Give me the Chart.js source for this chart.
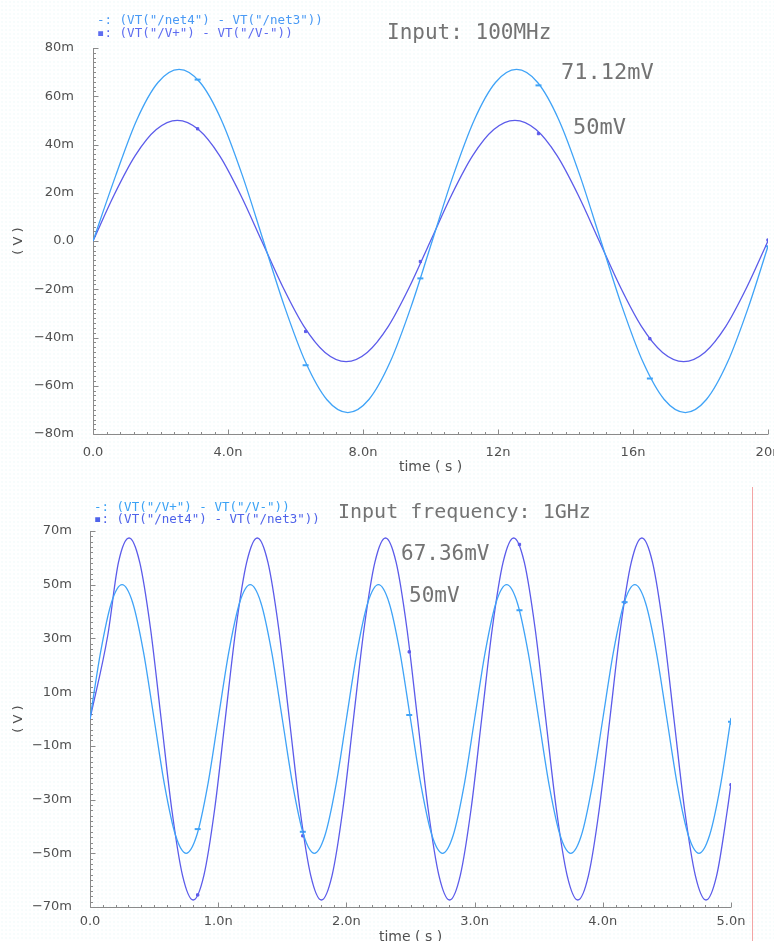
<!DOCTYPE html>
<html>
<head>
<meta charset="utf-8">
<title>Waveforms</title>
<script src="https://cdn.jsdelivr.net/npm/chart.js@4.4.1/dist/chart.umd.min.js"></script>
<style>
  html, body { margin: 0; padding: 0; }
  body {
    width: 774px; height: 941px; overflow: hidden; position: relative;
    background-color: #fff;
    background-image: radial-gradient(circle, #edf8f8 0.6px, transparent 0.8px);
    background-size: 4px 4px;
  }
  .box { position: absolute; left: 0; width: 774px; height: 475px; }
  .note { position: absolute; font-family: 'DejaVu Sans Mono', monospace; color: #737373; white-space: pre; }
  .leg { position: absolute; font-family: 'DejaVu Sans Mono', monospace; font-size: 12.5px; line-height: 13px; white-space: pre; }
  .cursor { position: absolute; left: 752px; top: 487px; width: 1px; height: 454px; background: #f4a4a4; }
</style>
</head>
<body>
<div class="box" style="top:0"><canvas id="topChart" width="774" height="475"></canvas></div>
<div class="box" style="top:475px"><canvas id="bottomChart" width="774" height="475"></canvas></div>

<div class="leg" style="left:97px; top:13px; color:#4a9af5">-: (VT("/net4") - VT("/net3"))</div>
<div class="leg" style="left:97px; top:26px; color:#5d6cf0">▪: (VT("/V+") - VT("/V-"))</div>
<div class="note" style="left:387px; top:22px; font-size:21px; line-height:21px">Input: 100MHz</div>
<div class="note" style="left:561px; top:61px; font-size:22px; line-height:22px">71.12mV</div>
<div class="note" style="left:573px; top:116px; font-size:22px; line-height:22px">50mV</div>

<div class="leg" style="left:94px; top:500px; color:#3aa2f5">-: (VT("/V+") - VT("/V-"))</div>
<div class="leg" style="left:94px; top:512px; color:#4f63ea">▪: (VT("/net4") - VT("/net3"))</div>
<div class="note" style="left:338px; top:501px; font-size:20px; line-height:20px">Input frequency: 1GHz</div>
<div class="note" style="left:401px; top:543px; font-size:21px; line-height:21px">67.36mV</div>
<div class="note" style="left:409px; top:585px; font-size:21px; line-height:21px">50mV</div>

<div class="cursor"></div>

<script>
// ---- 100 MHz run (time in ns, voltage in mV) ----
const topTimeNet = [0, 0.675, 1.3, 1.925, 2.55, 3.175, 3.8, 4.425, 5.05, 5.675, 6.3, 6.925, 7.55, 8.175, 8.8, 9.425,
  10.05, 10.675, 11.3, 11.925, 12.55, 13.175, 13.8, 14.425, 15.05, 15.675, 16.3, 16.925, 17.55, 18.175, 18.8, 19.425, 20];
const topNet = [0, 27.2, 50.3, 65.7, 71.1, 65.7, 50.3, 27.2, 0, -27.2, -50.3, -65.7, -71.1, -65.7, -50.3, -27.2,
  0, 27.2, 50.3, 65.7, 71.1, 65.7, 50.3, 27.2, 0, -27.2, -50.3, -65.7, -71.1, -65.7, -50.3, -27.2, -2.2];
const topTimeIn = [0, 0.625, 1.25, 1.875, 2.5, 3.125, 3.75, 4.375, 5, 5.625, 6.25, 6.875, 7.5, 8.125, 8.75, 9.375,
  10, 10.625, 11.25, 11.875, 12.5, 13.125, 13.75, 14.375, 15, 15.625, 16.25, 16.875, 17.5, 18.125, 18.75, 19.375, 20];
const topIn = [0, 19.1, 35.4, 46.2, 50, 46.2, 35.4, 19.1, 0, -19.1, -35.4, -46.2, -50, -46.2, -35.4, -19.1,
  0, 19.1, 35.4, 46.2, 50, 46.2, 35.4, 19.1, 0, -19.1, -35.4, -46.2, -50, -46.2, -35.4, -19.1, 0];
const topMarkTime = [3.1, 6.3, 9.7, 13.2, 16.5, 20];
const topMarkNet = [66.9, -51.5, -15.5, 64.5, -57, -2.2];
const topMarkIn = [46.5, -37.5, -8.5, 44.5, -40.5, 0.4];
const topXTicks = [0, 4, 8, 12, 16, 20];
const topXLabels = ['0.0', '4.0n', '8.0n', '12n', '16n', '20n'];
const topYTicks = [-80, -60, -40, -20, 0, 20, 40, 60, 80];
const topYLabels = ['−80m', '−60m', '−40m', '−20m', '0.0', '20m', '40m', '60m', '80m'];

// ---- 1 GHz run ----
const botTimeIn = [0, 0.083, 0.167, 0.25, 0.333, 0.417, 0.5, 0.583, 0.667, 0.75, 0.833, 0.917,
  1, 1.083, 1.167, 1.25, 1.333, 1.417, 1.5, 1.583, 1.667, 1.75, 1.833, 1.917,
  2, 2.083, 2.167, 2.25, 2.333, 2.417, 2.5, 2.583, 2.667, 2.75, 2.833, 2.917,
  3, 3.083, 3.167, 3.25, 3.333, 3.417, 3.5, 3.583, 3.667, 3.75, 3.833, 3.917,
  4, 4.083, 4.167, 4.25, 4.333, 4.417, 4.5, 4.583, 4.667, 4.75, 4.833, 4.917, 5];
const botIn = [0, 25, 43.3, 50, 43.3, 25, 0, -25, -43.3, -50, -43.3, -25,
  0, 25, 43.3, 50, 43.3, 25, 0, -25, -43.3, -50, -43.3, -25,
  0, 25, 43.3, 50, 43.3, 25, 0, -25, -43.3, -50, -43.3, -25,
  0, 25, 43.3, 50, 43.3, 25, 0, -25, -43.3, -50, -43.3, -25,
  0, 25, 43.3, 50, 43.3, 25, 0, -25, -43.3, -50, -43.3, -25, 0.4];
const botTimeNet = [0, 0.138, 0.222, 0.305, 0.388, 0.472, 0.555, 0.638, 0.722, 0.805, 0.888, 0.972,
  1.055, 1.138, 1.222, 1.305, 1.388, 1.472, 1.555, 1.638, 1.722, 1.805, 1.888, 1.972,
  2.055, 2.138, 2.222, 2.305, 2.388, 2.472, 2.555, 2.638, 2.722, 2.805, 2.888, 2.972,
  3.055, 3.138, 3.222, 3.305, 3.388, 3.472, 3.555, 3.638, 3.722, 3.805, 3.888, 3.972,
  4.055, 4.138, 4.222, 4.305, 4.388, 4.472, 4.555, 4.638, 4.722, 4.805, 4.888, 4.972, 5];
const botNet = [0, 31, 58.3, 67.4, 58.3, 33.7, 0, -33.7, -58.3, -67.4, -58.3, -33.7,
  0, 33.7, 58.3, 67.4, 58.3, 33.7, 0, -33.7, -58.3, -67.4, -58.3, -33.7,
  0, 33.7, 58.3, 67.4, 58.3, 33.7, 0, -33.7, -58.3, -67.4, -58.3, -33.7,
  0, 33.7, 58.3, 67.4, 58.3, 33.7, 0, -33.7, -58.3, -67.4, -58.3, -33.7,
  0, 33.7, 58.3, 67.4, 58.3, 33.7, 0, -33.7, -58.3, -67.4, -58.3, -33.7, -24];
const botMarkTime = [0.84, 1.66, 2.49, 3.35, 4.17, 5];
const botMarkIn = [-41, -42, 1.5, 40.5, 43.5, -1];
const botMarkNet = [-65.5, -43.5, 25, 65, 43.5, -24.5];
const botXTicks = [0, 1, 2, 3, 4, 5];
const botXLabels = ['0.0', '1.0n', '2.0n', '3.0n', '4.0n', '5.0n'];
const botYTicks = [-70, -50, -30, -10, 10, 30, 50, 70];
const botYLabels = ['−70m', '−50m', '−30m', '−10m', '10m', '30m', '50m', '70m'];

const LIGHT = '#3fa3f7';
const DARK = '#5b5bea';
const TEXT = '#505050';
const FONT = { family: 'DejaVu Sans', size: 13 };

// axis lines plus inward major/minor ticks, placed with the chart's own scales
const cadenceAxes = {
  id: 'cadenceAxes',
  beforeDatasetsDraw(chart, args, opts) {
    const { ctx, chartArea: a, scales: { x, y } } = chart;
    ctx.save();
    ctx.strokeStyle = '#8a8a8a';
    ctx.lineWidth = 1;
    ctx.beginPath();
    const left = Math.round(a.left) + 0.5;
    const bottom = Math.round(a.bottom) + 0.5;
    ctx.moveTo(left, a.top);
    ctx.lineTo(left, bottom);
    ctx.lineTo(a.right, bottom);
    const nx = Math.round((x.max - x.min) / opts.xMinor);
    for (let i = 0; i <= nx; i++) {
      const px = Math.round(x.getPixelForValue(x.min + i * opts.xMinor)) + 0.5;
      const len = i % 10 === 0 ? 5 : 2.5;
      ctx.moveTo(px, bottom);
      ctx.lineTo(px, bottom - len);
    }
    const ny = Math.round((y.max - y.min) / opts.yMinor);
    for (let i = 0; i <= ny; i++) {
      const py = Math.round(y.getPixelForValue(y.min + i * opts.yMinor)) + 0.5;
      const len = i % 10 === 0 ? 5 : 2.5;
      ctx.moveTo(left, py);
      ctx.lineTo(left + len, py);
    }
    ctx.stroke();
    ctx.restore();
  }
};

function trace(times, vals, color) {
  return {
    data: times.map((t, i) => ({ x: t, y: vals[i] })),
    borderColor: color, borderWidth: 1.3, pointRadius: 0,
    cubicInterpolationMode: 'monotone', fill: false
  };
}

function marks(times, vals, color, style, size) {
  return {
    data: times.map((t, i) => ({ x: t, y: vals[i] })),
    showLine: false, pointStyle: style, pointRadius: size,
    borderColor: color, backgroundColor: color, borderWidth: size > 2 ? 2 : 1
  };
}

function makeChart(id, s) {
  return new Chart(document.getElementById(id), {
    type: 'line',
    data: { datasets: s.datasets },
    options: {
      responsive: false, animation: false, devicePixelRatio: 1,
      layout: { padding: s.padding },
      plugins: { legend: { display: false }, tooltip: { enabled: false }, cadenceAxes: s.minor },
      scales: {
        x: {
          type: 'linear', min: s.xTicks[0], max: s.xTicks[s.xTicks.length - 1],
          grid: { display: false }, border: { display: false },
          afterBuildTicks: sc => { sc.ticks = s.xTicks.map(v => ({ value: v })); },
          ticks: { callback: (v, i) => s.xLabels[i], padding: s.xPad, color: TEXT, font: FONT, maxRotation: 0, autoSkip: false },
          title: { display: true, text: 'time ( s )', color: TEXT, font: { family: 'DejaVu Sans', size: 14 }, padding: { top: 0, bottom: s.titlePad } },
          afterFit: sc => { sc.height = s.xHeight; sc.paddingLeft = 0; sc.paddingRight = 0; }
        },
        y: {
          type: 'linear', min: s.yTicks[0], max: s.yTicks[s.yTicks.length - 1],
          grid: { display: false }, border: { display: false },
          afterBuildTicks: sc => { sc.ticks = s.yTicks.map(v => ({ value: v })); },
          ticks: { callback: (v, i) => s.yLabels[i], padding: s.yPad, color: TEXT, font: FONT, autoSkip: false },
          title: { display: true, text: '( V )', color: TEXT, font: { family: 'DejaVu Sans', size: 13 }, padding: { top: 11, bottom: 0 } },
          afterFit: sc => { sc.width = s.yWidth; }
        }
      }
    },
    plugins: [cadenceAxes]
  });
}

makeChart('topChart', {
  datasets: [
    trace(topTimeNet, topNet, LIGHT),
    trace(topTimeIn, topIn, DARK),
    marks(topMarkTime, topMarkNet, LIGHT, 'line', 3),
    marks(topMarkTime, topMarkIn, DARK, 'rect', 1.6)
  ],
  padding: { top: 48, right: 6, bottom: 0, left: 0 },
  minor: { xMinor: 0.4, yMinor: 2 },
  xTicks: topXTicks, xLabels: topXLabels, yTicks: topYTicks, yLabels: topYLabels,
  xPad: 3, titlePad: -1, xHeight: 41, yPad: 11, yWidth: 93
});

makeChart('bottomChart', {
  datasets: [
    trace(botTimeIn, botIn, LIGHT),
    trace(botTimeNet, botNet, DARK),
    marks(botMarkTime, botMarkIn, LIGHT, ['line', 'line', 'line', 'line', 'line', 'cross'], 3),
    marks(botMarkTime, botMarkNet, DARK, 'rect', 1.6)
  ],
  padding: { top: 56, right: 43, bottom: 0, left: 0 },
  minor: { xMinor: 0.1, yMinor: 2 },
  xTicks: botXTicks, xLabels: botXLabels, yTicks: botYTicks, yLabels: botYLabels,
  xPad: -1, titlePad: 4, xHeight: 43, yPad: 10, yWidth: 90
});
</script>
</body>
</html>
